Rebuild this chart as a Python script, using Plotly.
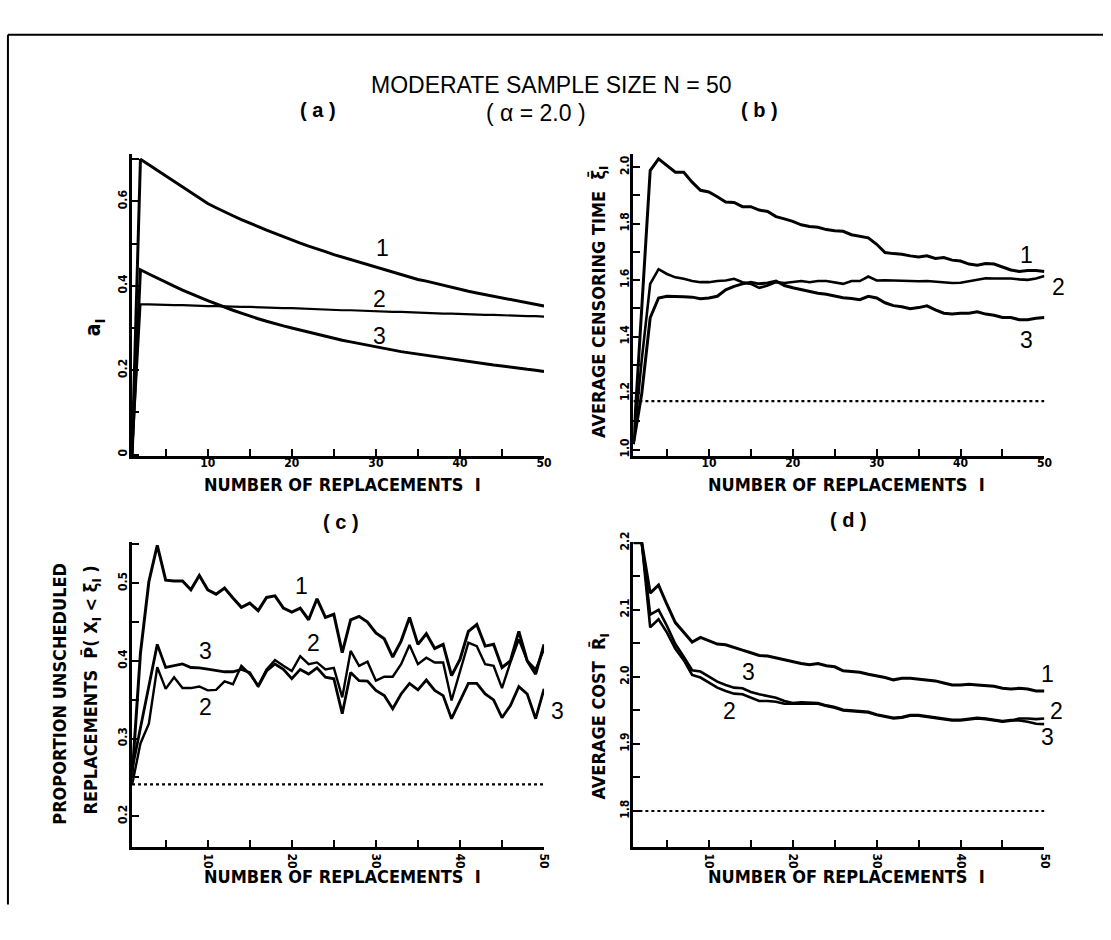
import plotly.graph_objects as go

# ---------------- data ----------------
X = list(range(1, 51))

A1 = [0.0, 0.700, 0.687, 0.674, 0.661, 0.648, 0.635, 0.622, 0.608, 0.595, 0.585, 0.575, 0.566, 0.557, 0.548,
      0.540, 0.532, 0.524, 0.516, 0.509, 0.501, 0.494, 0.488, 0.481, 0.474, 0.468, 0.462, 0.457, 0.451, 0.445,
      0.438, 0.432, 0.427, 0.421, 0.415, 0.411, 0.406, 0.401, 0.396, 0.391, 0.387, 0.383, 0.379, 0.375, 0.371,
      0.367, 0.363, 0.360, 0.356, 0.352]
A2 = [0.0, 0.356, 0.356, 0.355, 0.355, 0.354, 0.354, 0.353, 0.353, 0.352, 0.352, 0.351, 0.351, 0.350, 0.350,
      0.349, 0.349, 0.348, 0.347, 0.347, 0.346, 0.345, 0.345, 0.344, 0.343, 0.342, 0.342, 0.341, 0.340, 0.340,
      0.339, 0.338, 0.338, 0.337, 0.336, 0.336, 0.335, 0.334, 0.334, 0.333, 0.332, 0.332, 0.331, 0.331, 0.330,
      0.330, 0.329, 0.328, 0.328, 0.327]
A3 = [0.0, 0.438, 0.428, 0.418, 0.408, 0.399, 0.390, 0.381, 0.373, 0.365, 0.357, 0.349, 0.342, 0.335, 0.328,
      0.322, 0.316, 0.310, 0.305, 0.300, 0.295, 0.290, 0.285, 0.280, 0.276, 0.271, 0.267, 0.263, 0.259, 0.255,
      0.251, 0.248, 0.244, 0.241, 0.238, 0.235, 0.232, 0.229, 0.226, 0.223, 0.220, 0.217, 0.215, 0.212, 0.210,
      0.207, 0.205, 0.202, 0.200, 0.197]

B1 = [1.02, 1.50, 1.988, 2.029, 2.006, 1.982, 1.982, 1.947, 1.918, 1.912, 1.895, 1.877, 1.875, 1.860, 1.860,
      1.848, 1.843, 1.825, 1.817, 1.808, 1.796, 1.790, 1.787, 1.779, 1.775, 1.773, 1.761, 1.755, 1.750, 1.727,
      1.698, 1.694, 1.692, 1.686, 1.682, 1.686, 1.677, 1.680, 1.671, 1.668, 1.657, 1.653, 1.659, 1.657, 1.647,
      1.636, 1.631, 1.634, 1.634, 1.631]
B2 = [1.02, 1.32, 1.587, 1.639, 1.622, 1.610, 1.605, 1.597, 1.593, 1.593, 1.597, 1.599, 1.605, 1.593, 1.587,
      1.573, 1.581, 1.593, 1.590, 1.593, 1.597, 1.593, 1.597, 1.597, 1.593, 1.587, 1.597, 1.597, 1.613, 1.599,
      1.600, 1.599, 1.597, 1.597, 1.596, 1.597, 1.595, 1.591, 1.590, 1.591, 1.596, 1.603, 1.607, 1.606, 1.607,
      1.606, 1.603, 1.601, 1.606, 1.615]
B3 = [1.02, 1.20, 1.467, 1.537, 1.543, 1.543, 1.541, 1.540, 1.534, 1.537, 1.543, 1.566, 1.578, 1.587, 1.593,
      1.587, 1.590, 1.597, 1.581, 1.573, 1.566, 1.561, 1.554, 1.550, 1.543, 1.538, 1.535, 1.531, 1.543, 1.537,
      1.520, 1.510, 1.506, 1.499, 1.503, 1.509, 1.495, 1.483, 1.480, 1.483, 1.483, 1.488, 1.480, 1.476, 1.468,
      1.468, 1.460, 1.460, 1.465, 1.468]
B_REF = 1.172

C1 = [0.25, 0.41, 0.502, 0.549, 0.504, 0.503, 0.503, 0.4915, 0.51, 0.4915, 0.486, 0.494, 0.481, 0.469, 0.4745,
      0.4647, 0.4817, 0.4838, 0.468, 0.463, 0.468, 0.453, 0.48, 0.456, 0.460, 0.4106, 0.453, 0.4574, 0.450, 0.436,
      0.4285, 0.405, 0.4255, 0.456, 0.4213, 0.435, 0.416, 0.4213, 0.381, 0.402, 0.438, 0.4468, 0.419, 0.4213,
      0.3915, 0.40, 0.438, 0.40, 0.383, 0.4213]
C2 = [0.24, 0.2936, 0.319, 0.392, 0.364, 0.379, 0.365, 0.365, 0.367, 0.362, 0.3626, 0.3736, 0.370, 0.3936, 0.383,
      0.368, 0.389, 0.401, 0.3936, 0.387, 0.406, 0.3957, 0.398, 0.389, 0.391, 0.353, 0.4128, 0.3936, 0.399, 0.3745,
      0.3796, 0.3796, 0.3957, 0.4204, 0.3957, 0.404, 0.398, 0.398, 0.349, 0.385, 0.4234, 0.419, 0.3957, 0.3936,
      0.365, 0.398, 0.4277, 0.40, 0.389, 0.415]
C3 = [0.26, 0.315, 0.37, 0.4213, 0.3915, 0.394, 0.396, 0.3915, 0.391, 0.3894, 0.388, 0.386, 0.386, 0.389, 0.385,
      0.367, 0.387, 0.396, 0.389, 0.377, 0.389, 0.383, 0.391, 0.379, 0.377, 0.332, 0.385, 0.3745, 0.374, 0.362,
      0.3553, 0.3383, 0.3574, 0.371, 0.3626, 0.3753, 0.362, 0.3553, 0.3255, 0.349, 0.371, 0.371, 0.3574, 0.3498,
      0.3268, 0.3426, 0.3668, 0.3574, 0.3255, 0.364]
C_REF = 0.241

D1 = [2.2, 2.2, 2.125, 2.137, 2.108, 2.081, 2.0665, 2.052, 2.059, 2.054, 2.049, 2.048, 2.0445, 2.04, 2.036,
      2.032, 2.031, 2.028, 2.025, 2.0225, 2.02, 2.018, 2.02, 2.0166, 2.015, 2.009, 2.008, 2.007, 2.004, 2.002,
      1.999, 1.9956, 1.998, 1.998, 1.997, 1.9956, 1.994, 1.991, 1.988, 1.988, 1.989, 1.988, 1.987, 1.986, 1.983,
      1.982, 1.983, 1.982, 1.979, 1.979]
D2 = [2.2, 2.2, 2.074, 2.086, 2.066, 2.042, 2.025, 2.003, 1.999, 1.991, 1.984, 1.979, 1.975, 1.974, 1.969,
      1.964, 1.964, 1.963, 1.96, 1.96, 1.961, 1.961, 1.96, 1.9565, 1.954, 1.95, 1.949, 1.949, 1.947, 1.943,
      1.94, 1.938, 1.939, 1.942, 1.942, 1.94, 1.939, 1.937, 1.935, 1.935, 1.937, 1.938, 1.937, 1.9345, 1.933,
      1.9345, 1.938, 1.938, 1.937, 1.938]
D3 = [2.2, 2.2, 2.093, 2.10, 2.076, 2.049, 2.03, 2.01, 2.008, 2.0005, 1.993, 1.988, 1.984, 1.983, 1.9775,
      1.974, 1.971, 1.969, 1.964, 1.961, 1.962, 1.962, 1.961, 1.9575, 1.955, 1.951, 1.950, 1.950, 1.948, 1.944,
      1.941, 1.939, 1.940, 1.943, 1.943, 1.941, 1.940, 1.938, 1.936, 1.936, 1.938, 1.939, 1.938, 1.9355, 1.934,
      1.9355, 1.935, 1.933, 1.930, 1.9296]
D_REF = 1.80

REF_X = [1, 50]

X_TICKS = [5, 10, 15, 20, 25, 30, 35, 40, 45, 50]
X_TICKTEXT = ["", "10", "", "20", "", "30", "", "40", "", "50"]
A_YTICKS = [0, 0.1, 0.2, 0.3, 0.4, 0.5, 0.6, 0.7]
A_YTEXT = ["0", "", "0.2", "", "0.4", "", "0.6", ""]
B_YTICKS = [1.0, 1.1, 1.2, 1.3, 1.4, 1.5, 1.6, 1.7, 1.8, 1.9, 2.0]
B_YTEXT = ["1.0", "", "1.2", "", "1.4", "", "1.6", "", "1.8", "", "2.0"]
C_YTICKS = [0.2, 0.25, 0.3, 0.35, 0.4, 0.45, 0.5, 0.55]
C_YTEXT = ["0.2", "", "0.3", "", "0.4", "", "0.5", ""]
D_YTICKS = [1.8, 1.85, 1.9, 1.95, 2.0, 2.05, 2.1, 2.15, 2.2]
D_YTEXT = ["1.8", "", "1.9", "", "2.0", "", "2.1", "", "2.2"]

# curve labels: (text, x, y, panel); x beyond 50 means right of the plot end
LABELS = [
    ("1", 30.8, 0.489, 1), ("2", 30.4, 0.368, 1), ("3", 30.4, 0.282, 1),
    ("1", 47.9, 1.69, 2), ("2", 51.7, 1.575, 2), ("3", 47.9, 1.39, 2),
    ("1", 21.2, 0.496, 3), ("3", 9.7, 0.413, 3), ("2", 22.6, 0.423, 3), ("2", 9.7, 0.34, 3), ("3", 51.6, 0.336, 3),
    ("1", 50.4, 2.005, 4), ("2", 51.4, 1.949, 4), ("3", 50.4, 1.91, 4), ("3", 14.7, 2.008, 4), ("2", 12.5, 1.949, 4),
]

# ---------------- style / layout ----------------
W, H = 1111, 940
NARROW = "Liberation Sans Narrow, DejaVu Sans Condensed, Arial Narrow, sans-serif"
SANS = "Liberation Sans, Arial, Helvetica, sans-serif"

LEFT = (133, 548)
RIGHT = (638, 1052)
TOP = (145, 451)
BOT = (538, 847)
PX_PER_UNIT = (LEFT[1] - LEFT[0]) / 49.0


def px_x(p):
    return p / W


def px_y(p):
    return 1 - p / H


fig = go.Figure()


def add_line(x, y, k, width=3.0, dash=None):
    suffix = "" if k == 1 else str(k)
    fig.add_trace(go.Scatter(
        x=x, y=y, mode="lines", xaxis="x" + suffix, yaxis="y" + suffix,
        line=dict(color="black", width=width, dash=dash), cliponaxis=False,
        showlegend=False, hoverinfo="skip"))


add_line(X, A1, 1, 3.0)
add_line(X, A2, 1, 2.2)
add_line(X, A3, 1, 3.0)
add_line(X, B1, 2, 3.0)
add_line(X, B2, 2, 2.6)
add_line(X, B3, 2, 3.0)
add_line(REF_X, [B_REF, B_REF], 2, 2.2, "dot")
add_line(X, C1, 3, 3.0)
add_line(X, C2, 3, 2.4)
add_line(X, C3, 3, 2.8)
add_line(REF_X, [C_REF, C_REF], 3, 2.2, "dot")
add_line(X, D1, 4, 3.0)
add_line(X, D2, 4, 2.6)
add_line(X, D3, 4, 2.6)
add_line(REF_X, [D_REF, D_REF], 4, 2.2, "dot")

tickfont = dict(family=NARROW, size=12, color="black", weight="bold")


def xaxis(dom, anchor, angle, standoff):
    return dict(domain=[px_x(dom[0]), px_x(dom[1])], anchor=anchor, range=[1, 50],
                tickvals=X_TICKS, ticktext=X_TICKTEXT, ticks="inside", ticklen=7, tickwidth=2,
                tickcolor="black", showline=True, linewidth=2.6, linecolor="black",
                showgrid=False, zeroline=False, tickfont=tickfont, tickangle=angle,
                ticklabelstandoff=standoff)


def yaxis(dom, anchor, rng, tv, tt):
    return dict(domain=[px_y(dom[1]), px_y(dom[0])], anchor=anchor, range=rng,
                tickvals=tv, ticktext=tt, ticks="inside", ticklen=7, tickwidth=2,
                tickcolor="black", showline=True, linewidth=2.6, linecolor="black",
                showgrid=False, zeroline=False, tickfont=tickfont, tickangle=-90,
                ticklabelstandoff=-3)


fig.update_layout(
    width=W, height=H, margin=dict(l=0, r=0, t=0, b=0),
    paper_bgcolor="white", plot_bgcolor="white", showlegend=False,
    xaxis=xaxis(LEFT, "y", 0, -6),
    yaxis=yaxis(TOP, "x", [-0.004, 0.712], A_YTICKS, A_YTEXT),
    xaxis2=xaxis(RIGHT, "y2", 0, -6),
    yaxis2=yaxis(TOP, "x2", [0.977, 2.046], B_YTICKS, B_YTEXT),
    xaxis3=xaxis(LEFT, "y3", 90, 1),
    yaxis3=yaxis(BOT, "x3", [0.16, 0.553], C_YTICKS, C_YTEXT),
    xaxis4=xaxis(RIGHT, "y4", 90, 1),
    yaxis4=yaxis(BOT, "x4", [1.746, 2.201], D_YTICKS, D_YTEXT),
)

ann = []
for txt, xv, yv, k in LABELS:
    suffix = "" if k == 1 else str(k)
    shift = 0
    if xv > 50:  # annotations beyond the axis range would be hidden: anchor at the end and shift
        shift = (xv - 50) * PX_PER_UNIT
        xv = 50
    ann.append(dict(text=txt, x=xv, y=yv, xref="x" + suffix, yref="y" + suffix, xshift=shift,
                    showarrow=False, font=dict(family=SANS, size=23, color="black")))


def ptext(txt, x, y, size, family=SANS, angle=0, weight="normal"):
    ann.append(dict(text=txt, x=px_x(x), y=px_y(y), xref="paper", yref="paper",
                    showarrow=False, textangle=angle, xanchor="center", yanchor="middle",
                    font=dict(family=family, size=size, color="black", weight=weight)))


ptext("MODERATE SAMPLE SIZE N = 50", 555, 75, 23)
ptext("( a )", 320, 100, 20, weight="bold")
ptext("( α = 2.0 )", 540, 103, 23)
ptext("( b )", 765, 100, 20, weight="bold")
ptext("( c )", 343, 518, 20, weight="bold")
ptext("( d )", 855, 516, 20, weight="bold")

XT = "NUMBER OF REPLACEMENTS &nbsp;I"
ptext(XT, 345, 480, 18, NARROW, weight="bold")
ptext(XT, 853, 480, 18, NARROW, weight="bold")
ptext(XT, 345, 877, 18, NARROW, weight="bold")
ptext(XT, 853, 877, 18, NARROW, weight="bold")

ptext("a<sub>I</sub>", 95, 320, 21, NARROW, angle=-90, weight="bold")
ptext("AVERAGE CENSORING TIME &nbsp;ξ\u0304<sub>I</sub>", 604, 295, 18, NARROW, angle=-90, weight="bold")
ptext("PROPORTION UNSCHEDULED", 60, 692, 18, NARROW, angle=-90, weight="bold")
ptext("REPLACEMENTS &nbsp;P\u0304( X<sub>I</sub> &lt; ξ<sub>I</sub> )", 93, 688, 18, NARROW, angle=-90, weight="bold")
ptext("AVERAGE COST &nbsp;R\u0304<sub>I</sub>", 604, 715, 18, NARROW, angle=-90, weight="bold")

fig.update_layout(annotations=ann)

# outer frame (top and left edges of the scanned page box)
fig.add_shape(type="line", xref="paper", yref="paper", x0=px_x(8), x1=1.0, y0=px_y(24), y1=px_y(24),
              line=dict(color="black", width=2))
fig.add_shape(type="line", xref="paper", yref="paper", x0=px_x(8), x1=px_x(8), y0=px_y(24), y1=px_y(905),
              line=dict(color="black", width=2))

fig.write_html("out.html")
